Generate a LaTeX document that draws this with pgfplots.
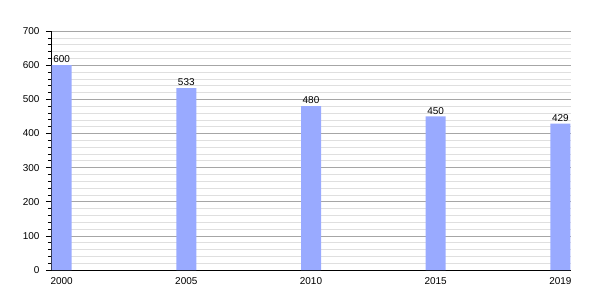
\documentclass[border=0pt]{standalone}
\usepackage{fontspec}
\setmainfont{Liberation Sans}
\usepackage{pgfplots}
\pgfplotsset{compat=1.18}
\definecolor{barblue}{RGB}{153,170,255}
\begin{document}
\begin{tikzpicture}
\path[use as bounding box] (-51bp,-30bp) rectangle (549bp,270bp);
\begin{axis}[
  scale only axis,
  width=520bp, height=239bp,
  at={(0,0)}, anchor=south west,
  xmin=-0.085, xmax=4.085,
  ymin=0, ymax=700,
  axis x line*=bottom,
  axis y line*=left,
  axis line style={black, line width=0.8pt},
  xtick={0,1,2,3,4},
  xticklabels={2000,2005,2010,2015,2019},
  x tick style={draw=none},
  ytick={0,100,...,700},
  minor y tick num=4,
  y tick style={black, line width=0.6pt},
  tick align=outside,
  major tick length=5bp,
  minor tick length=3bp,
  ymajorgrids, yminorgrids,
  major grid style={gray!70, line width=0.5pt},
  minor grid style={gray!25, line width=0.5pt},
  tick label style={font=\fontsize{10}{12}\selectfont},
  /pgf/number format/assume math mode=true,
  yticklabel style={xshift=-3bp},
  xticklabel style={yshift=1bp},
  ybar, bar width=20bp,
  nodes near coords,
  nodes near coords style={font=\fontsize{10}{12}\selectfont, black, inner sep=2bp},
  clip=false,
]
\addplot[fill=barblue, draw=none, bar shift=0pt] coordinates {(0,600) (1,533) (2,480) (3,450) (4,429)};
\end{axis}
\end{tikzpicture}
\end{document}
